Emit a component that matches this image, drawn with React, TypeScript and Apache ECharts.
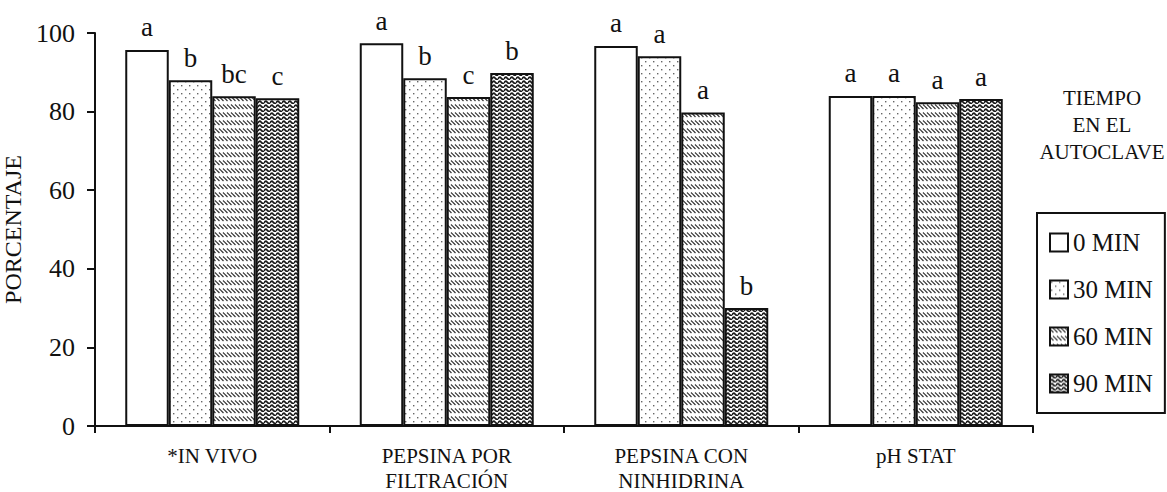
import React, { useEffect, useRef } from 'react';
import * as echarts from 'echarts';

const categories = ['*IN VIVO', 'PEPSINA POR\nFILTRACIÓN', 'PEPSINA CON\nNINHIDRINA', 'pH STAT'];
const seriesNames = ['0 MIN', '30 MIN', '60 MIN', '90 MIN'];
const min0 = [95.7, 97.4, 96.7, 84.0];
const min30 = [88.0, 88.5, 94.1, 84.0];
const min60 = [83.9, 83.7, 79.8, 82.4];
const min90 = [83.4, 89.8, 30.0, 83.2];
const letters0 = ['a', 'a', 'a', 'a'];
const letters30 = ['b', 'b', 'a', 'a'];
const letters60 = ['bc', 'c', 'a', 'a'];
const letters90 = ['c', 'b', 'b', 'a'];
const yMin = 0;
const yMax = 100;
const yStep = 20;
const legendTitle = 'TIEMPO\nEN EL\nAUTOCLAVE';

const FONT = 'Liberation Serif';
const INK = '#111';

function makePattern(kind: string): any {
  const c = document.createElement('canvas');
  let w = 8;
  let h = 8;
  if (kind === 'dots') {
    w = 8; h = 8;
    c.width = w; c.height = h;
    const g = c.getContext('2d')!;
    g.fillStyle = '#fff';
    g.fillRect(0, 0, w, h);
    g.fillStyle = '#666';
    g.fillRect(1, 1, 1.4, 1.4);
    g.fillRect(5, 5, 1.4, 1.4);
  } else if (kind === 'hatch') {
    w = 4; h = 8;
    c.width = w; c.height = h;
    const g = c.getContext('2d')!;
    g.fillStyle = '#fff';
    g.fillRect(0, 0, w, h);
    g.strokeStyle = '#333';
    g.lineWidth = 1.2;
    g.beginPath();
    g.moveTo(-1, 0.5);
    g.lineTo(3.5, 5);
    g.moveTo(3, 0.5);
    g.lineTo(7.5, 5);
    g.stroke();
  } else {
    w = 6; h = 4;
    c.width = w; c.height = h;
    const g = c.getContext('2d')!;
    g.fillStyle = '#fff';
    g.fillRect(0, 0, w, h);
    g.strokeStyle = '#1a1a1a';
    g.lineWidth = 1.7;
    g.beginPath();
    g.moveTo(0, 3);
    g.quadraticCurveTo(1.5, 0, 3, 2);
    g.quadraticCurveTo(4.5, 4, 6, 3);
    g.stroke();
  }
  return { image: c, repeat: 'repeat', imageWidth: w, imageHeight: h };
}

export default function App() {
  const ref = useRef<HTMLDivElement>(null);
  useEffect(() => {
    if (!ref.current) return;
    const chart = echarts.init(ref.current, null, { renderer: 'svg' });
    const fills = ['#fff', makePattern('dots'), makePattern('hatch'), makePattern('wave')];
    const values = [min0, min30, min60, min90];
    const letters = [letters0, letters30, letters60, letters90];
    const series = seriesNames.map((name, i) => ({
      type: 'bar',
      name,
      data: values[i],
      barWidth: 43.5,
      barGap: '0%',
      itemStyle: { color: fills[i], borderColor: INK, borderWidth: 2 },
      label: {
        show: true,
        position: 'top',
        distance: 9,
        formatter: (p: any) => letters[i][p.dataIndex],
        fontSize: 27,
        fontFamily: FONT,
        color: INK,
      },
    }));
    chart.setOption({
      animation: false,
      backgroundColor: '#fff',
      textStyle: { fontFamily: FONT, color: INK },
      grid: { left: 95, right: 134, top: 33, bottom: 66, containLabel: false, outerBoundsMode: 'none' },
      xAxis: {
        type: 'category',
        data: categories,
        axisLine: { lineStyle: { color: INK, width: 2 } },
        axisTick: { show: true, length: 7, lineStyle: { color: INK, width: 2 } },
        axisLabel: { interval: 0, fontSize: 21, lineHeight: 25, margin: 17, color: INK, fontFamily: FONT },
      },
      yAxis: {
        type: 'value',
        min: yMin,
        max: yMax,
        interval: yStep,
        name: 'PORCENTAJE',
        nameLocation: 'middle',
        nameGap: 70,
        nameTextStyle: { fontSize: 24, color: INK, fontFamily: FONT },
        axisLine: { show: true, lineStyle: { color: INK, width: 2 } },
        axisTick: { show: true, length: 8, lineStyle: { color: INK, width: 2 } },
        splitLine: { show: false },
        axisLabel: { fontSize: 26, margin: 20, color: INK, fontFamily: FONT },
      },
      legend: {
        orient: 'vertical',
        left: 1037,
        top: 213,
        padding: [17, 12, 17, 12],
        borderColor: INK,
        borderWidth: 2,
        backgroundColor: '#fff',
        itemWidth: 18,
        itemHeight: 18,
        itemGap: 22,
        icon: 'rect',
        itemStyle: { borderColor: INK, borderWidth: 2 },
        textStyle: { fontSize: 25, color: INK, fontFamily: FONT },
        data: seriesNames,
      },
      graphic: [
        {
          type: 'text',
          x: 1102,
          y: 84,
          style: {
            text: legendTitle,
            fontSize: 21,
            lineHeight: 27,
            fontFamily: FONT,
            fill: INK,
            align: 'center',
            verticalAlign: 'top',
          },
        },
      ],
      series,
    });
    return () => chart.dispose();
  }, []);
  return <div ref={ref} style={{ position: 'fixed', left: 0, top: 0, width: 1167, height: 492, background: '#fff' }} />;
}
